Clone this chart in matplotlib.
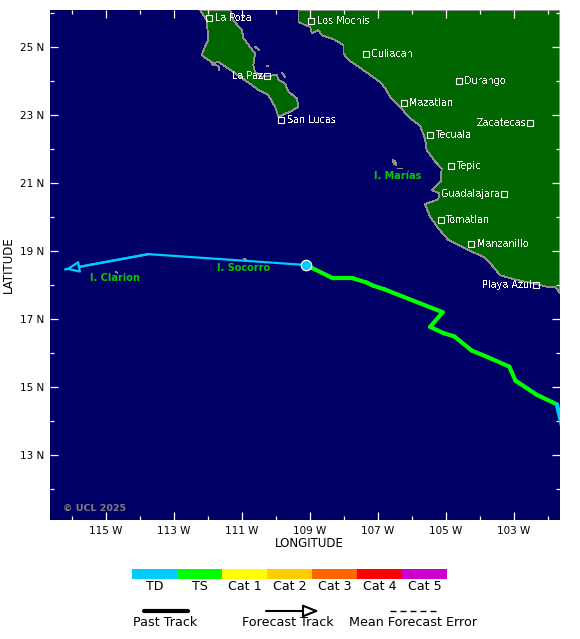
import matplotlib
matplotlib.use("Agg")
import matplotlib.pyplot as plt

# ---------- Data (degrees) ----------
lon_min, lon_max = -116.65, -101.65
lat_min, lat_max = 11.09, 26.09

baja_lon = [-112.24, -111.35, -111.26, -111.01, -110.96, -110.81, -110.62, -110.67, -110.62, -110.42,
            -109.98, -109.93, -109.74, -109.64, -109.39, -109.34, -109.59, -109.93, -110.03, -110.23,
            -110.52, -110.71, -111.26, -111.70, -111.84, -112.19, -112.09, -111.99, -112.04]
baja_lat = [26.09, 26.09, 25.79, 25.50, 25.26, 25.06, 24.81, 24.47, 24.27, 24.13,
            24.18, 24.03, 23.93, 23.69, 23.49, 23.24, 23.10, 22.95, 23.24, 23.59,
            23.74, 23.88, 24.27, 24.57, 24.52, 24.76, 25.01, 25.21, 25.79]

main_lon = [-109.34, -109.34, -109.15, -109.00, -108.95, -108.76, -108.66, -108.31, -108.02, -108.02,
            -107.87, -107.43, -106.94, -106.79, -106.65, -106.35, -106.11, -105.76, -105.62, -105.57,
            -105.32, -105.13, -105.16, -105.42, -105.20, -105.23, -105.62, -105.47, -105.23, -104.93,
            -104.59, -104.24, -103.90, -103.66, -103.41, -102.92, -102.43, -102.04, -101.79, -101.65,
            -101.65]
main_lat = [26.09, 25.74, 25.65, 25.60, 25.40, 25.50, 25.35, 25.23, 25.06, 24.81,
            24.62, 24.32, 23.97, 23.79, 23.54, 23.24, 22.95, 22.68, 22.31, 21.97,
            21.63, 21.43, 21.04, 20.79, 20.70, 20.52, 20.38, 20.01, 19.67, 19.32,
            19.15, 18.98, 18.83, 18.59, 18.29, 18.15, 18.05, 17.95, 17.95, 17.76,
            26.09]

# small islands, drawn as short coast strokes
island_lons = [[-110.62, -110.50], [-109.83, -109.74], [-110.28, -110.25],
               [-111.89, -111.70, -111.67], [-106.45, -106.30],
               [-110.93, -110.89], [-114.70, -114.68]]
island_lats = [[25.01, 24.91], [24.24, 24.13], [24.45, 24.44],
               [24.49, 24.45, 24.32], [21.45, 21.45],
               [18.77, 18.75], [18.38, 18.37]]
maria_lon = [-106.57, -106.50, -106.46, -106.52]
maria_lat = [21.67, 21.66, 21.53, 21.55]

city_names = ["La Poza", "Los Mochis", "Culiacan", "Durango", "Mazatlan", "Tecuala", "Zacatecas",
              "La Paz", "San Lucas", "Tepic", "Guadalajara", "Tomatlan", "Manzanillo", "Playa Azul"]
city_lons = [-111.97, -108.96, -107.35, -104.62, -106.24, -105.47, -102.53,
             -110.26, -109.85, -104.85, -103.29, -105.15, -104.26, -102.35]
city_lats = [25.85, 25.76, 24.79, 24.00, 23.35, 22.41, 22.76,
             24.15, 22.85, 21.50, 20.68, 19.91, 19.21, 18.00]
city_sides = ["r", "r", "r", "r", "r", "r", "l", "l", "r", "r", "l", "r", "r", "l"]

island_names = ["I. Marías", "I. Socorro", "I. Clarion"]
island_label_lons = [-106.41, -110.96, -114.73]
island_label_lats = [21.2, 18.5, 18.22]

# past track, newest to oldest, with the storm category of each leg
past_lon = [-109.12, -108.33, -107.75, -107.35, -107.14, -106.80, -105.10, -105.47, -105.06, -104.76,
            -104.24, -103.80, -103.14, -102.96, -102.33, -101.74, -101.60]
past_lat = [18.59, 18.20, 18.20, 18.08, 17.98, 17.87, 17.20, 16.77, 16.58, 16.49,
            16.07, 15.89, 15.60, 15.19, 14.77, 14.49, 13.88]
past_cat = ["TS"] * 15 + ["TD"]

fcst_lon = [-109.12, -113.76, -116.20]
fcst_lat = [18.59, 18.91, 18.46]

cat_names = ["TD", "TS", "Cat 1", "Cat 2", "Cat 3", "Cat 4", "Cat 5"]
cat_colors = ["#00ccff", "#00ff00", "#ffff00", "#ffcc00", "#ff6600", "#ff0000", "#cc00cc"]
color_of = dict(zip(cat_names, cat_colors))

lon_ticks = [-115, -113, -111, -109, -107, -105, -103]
lat_ticks = [13, 15, 17, 19, 21, 23, 25]

W, H = 580, 639
fig = plt.figure(figsize=(W / 100, H / 100), dpi=100, facecolor="white")

# ---------- Map ----------
ax = fig.add_axes([50 / W, 1 - 520 / H, 510 / W, 510 / H], facecolor="#000066")
ax.set_xlim(lon_min, lon_max)
ax.set_ylim(lat_min, lat_max)

for lons, lats in [(baja_lon, baja_lat), (main_lon, main_lat), (maria_lon, maria_lat)]:
    ax.fill(lons, lats, facecolor="#006600", edgecolor="#909090", linewidth=0.6, antialiased=False, zorder=1)
for lons, lats in zip(island_lons, island_lats):
    ax.plot(lons, lats, color="#909090", linewidth=0.6, antialiased=False, zorder=1)

for name, lon, lat, side in zip(city_names, city_lons, city_lats, city_sides):
    ax.plot(lon, lat, "s", ms=4.6, mfc="none", mec="white", mew=0.8, antialiased=False, zorder=3)
    if side == "r":
        ax.text(lon + 0.16, lat, name, color="white", fontsize=6.9, ha="left", va="center",
                antialiased=False, zorder=3)
    else:
        ax.text(lon - 0.12, lat, name, color="white", fontsize=6.9, ha="right", va="center",
                antialiased=False, zorder=3)

for name, lon, lat in zip(island_names, island_label_lons, island_label_lats):
    ax.text(lon, lat, name, color="#00cc00", fontsize=7, fontweight="bold", ha="center", va="center", zorder=3)

ax.text(-116.27, 11.42, "© UCL 2025", color="#808080", fontsize=6.8, fontweight="bold", ha="left", va="center")

# tracks
for i, cat in enumerate(past_cat):
    ax.plot(past_lon[i:i + 2], past_lat[i:i + 2], color=color_of[cat], linewidth=3,
            solid_capstyle="round", zorder=4)
ax.plot(fcst_lon, fcst_lat, color="#00ccff", linewidth=1.6, zorder=4)
ax.annotate("", xy=(fcst_lon[2], fcst_lat[2]), xytext=(fcst_lon[1], fcst_lat[1]), zorder=4,
            arrowprops=dict(arrowstyle="-|>,head_length=0.8,head_width=0.34", color="#00ccff",
                            fc="#000066", lw=1.6, shrinkA=0, shrinkB=0))
ax.plot(past_lon[0], past_lat[0], "o", ms=7.5, mfc="#00ccff", mec="white", mew=0.9, zorder=5)

# ticks
ax.set_xticks(lon_ticks)
ax.set_xticklabels([f"{-v} W" for v in lon_ticks], fontsize=7.5)
ax.set_yticks(lat_ticks)
ax.set_yticklabels([f"{v} N" for v in lat_ticks], fontsize=7.5)
ax.set_xticks([v - 1 for v in lon_ticks] + [-102], minor=True)
ax.set_yticks([v - 1 for v in lat_ticks] + [26], minor=True)
ax.tick_params(which="major", direction="in", length=6, width=0.9, color="white",
               top=True, right=True, pad=4.5)
ax.tick_params(which="minor", direction="in", length=3, width=0.9, color="white", top=True, right=True)
for spine in ax.spines.values():
    spine.set_visible(False)
ax.set_xlabel("LONGITUDE", fontsize=8.5, labelpad=2)
ax.set_ylabel("LATITUDE", fontsize=8.5, labelpad=3)
ax.xaxis.set_label_coords(0.508, -0.033)

# ---------- Colour key ----------
key = fig.add_axes([132 / W, 1 - 579 / H, 315 / W, 10 / H])
key.bar(range(len(cat_names)), [1] * len(cat_names), width=1, color=cat_colors)
key.set_xlim(-0.5, len(cat_names) - 0.5)
key.set_ylim(0, 1)
key.set_yticks([])
key.set_xticks(range(len(cat_names)))
key.set_xticklabels(cat_names, fontsize=9.1)
key.tick_params(axis="x", length=0, pad=1)
for spine in key.spines.values():
    spine.set_visible(False)

# ---------- Line key ----------
leg = fig.add_axes([0, 0, 1, 1], facecolor="none")
leg.set_xlim(0, W)
leg.set_ylim(H, 0)
leg.axis("off")
leg.plot([144, 188], [611, 611], color="black", linewidth=3, solid_capstyle="round")
leg.annotate("", xy=(319, 611), xytext=(266, 611),
             arrowprops=dict(arrowstyle="-|>,head_length=0.95,head_width=0.38", color="black",
                             fc="white", lw=1.5, shrinkA=0, shrinkB=0))
leg.plot([390, 437], [611, 611], color="black", linewidth=1, dashes=(4.3, 2.9))
leg.text(165, 623, "Past Track", fontsize=9.2, ha="center", va="center")
leg.text(288, 623, "Forecast Track", fontsize=9.2, ha="center", va="center")
leg.text(413, 623, "Mean Forecast Error", fontsize=9.2, ha="center", va="center")

fig.savefig("out.png", dpi=100)
